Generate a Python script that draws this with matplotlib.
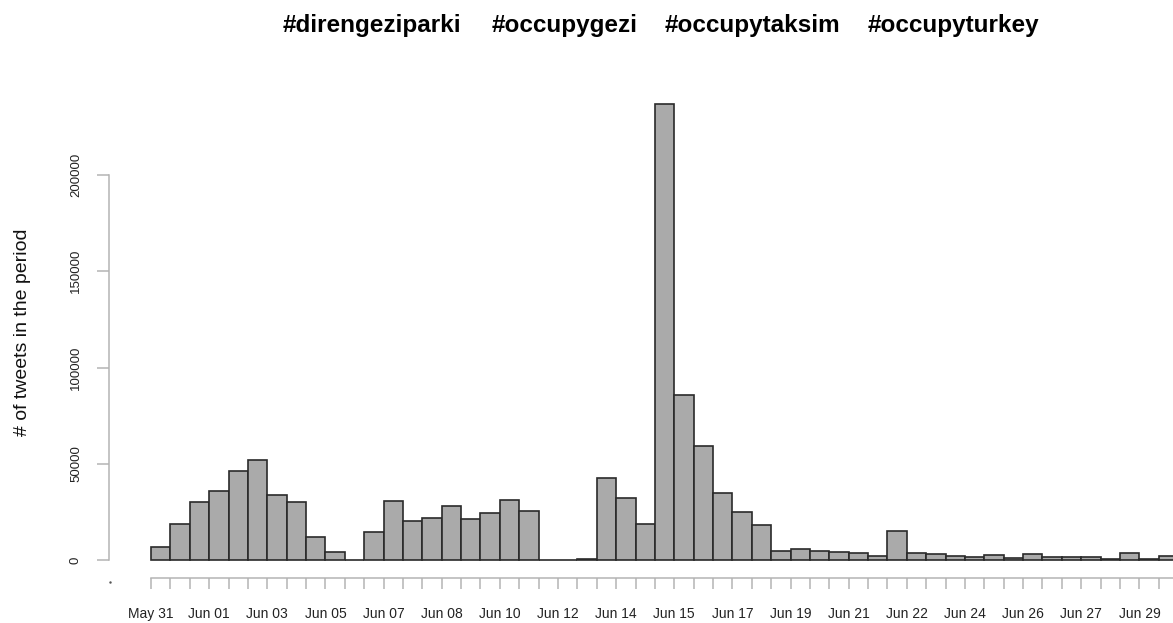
import matplotlib
matplotlib.use("Agg")
import matplotlib.pyplot as plt
import numpy as np

plt.rcParams['font.family'] = ['Liberation Sans', 'DejaVu Sans']

# tweet counts per period (53 bins)
counts = [6600, 18500, 30300, 36000, 46200, 51800, 33600, 30000, 12100, 4300,
          0, 14700, 30800, 20100, 21800, 28100, 21500, 24600, 31000, 25300,
          0, 0, 600, 42600, 32400, 18900, 236900, 85900, 59400, 34600,
          25100, 18400, 4850, 5500, 4500, 4000, 3500, 2250, 14900, 3500,
          3100, 2250, 1700, 2600, 1200, 2900, 1400, 1400, 1500, 700,
          3500, 700, 2100]
date_labels = ["May 31", "Jun 01", "Jun 03", "Jun 05", "Jun 07", "Jun 08",
               "Jun 10", "Jun 12", "Jun 14", "Jun 15", "Jun 17", "Jun 19",
               "Jun 21", "Jun 22", "Jun 24", "Jun 26", "Jun 27", "Jun 29"]
yticks = [0, 50000, 100000, 150000, 200000]
hashtags = ["#direngeziparki", "#occupygezi", "#occupytaksim", "#occupyturkey"]

W, H = 1173, 623
fig = plt.figure(figsize=(W / 100, H / 100), dpi=100)

# pixel geometry
px_x0, px_bw = 151.0, 19.38          # first bar left edge, bar width
px_y0, px_per = 560.0, 1.925 / 1000   # baseline, pixels per tweet
ax_left, ax_right = 109.0, 1173.0
ax_bottom, ax_top = 578.0, 90.0

ax = fig.add_axes([ax_left / W, 1 - ax_bottom / H,
                   (ax_right - ax_left) / W, (ax_bottom - ax_top) / H])

n = len(counts)
edges = np.arange(n + 1)
ax.bar(edges[:-1], counts, width=1.0, align='edge', color='#aaaaaa',
       edgecolor='#2a2a2a', linewidth=1.2, zorder=3)

for s in ['top', 'right']:
    ax.spines[s].set_visible(False)
gray = '#b4b4b4'
ax.spines['left'].set_bounds(0, 200000)
ax.spines['bottom'].set_bounds(0, n + 1)
ax.spines['left'].set_color(gray)
ax.spines['bottom'].set_color(gray)
ax.spines['left'].set_linewidth(1.1)
ax.spines['bottom'].set_linewidth(1.1)

ax.set_yticks(yticks)
ax.set_yticklabels([str(v) for v in yticks], rotation=90, va='center',
                   fontsize=9.5, color='#222222')
ax.tick_params(axis='y', length=8.5, width=1.1, color=gray, pad=11)

ax.set_xticks(np.arange(n + 2), minor=True)
ax.set_xticks(np.arange(len(date_labels)) * 3)
ax.set_xticklabels(date_labels, fontsize=10, color='#222222')
ax.tick_params(axis='x', which='both', length=8, width=1.1, color=gray, pad=13)

# set limits after ticks so they are not expanded
ax.set_xlim((ax_left - px_x0) / px_bw, (ax_right - px_x0) / px_bw)
ax.set_ylim(-(ax_bottom - px_y0) / px_per, (px_y0 - ax_top) / px_per)

ax.plot([0.001], [-0.008], marker='.', markersize=1.5, color='#555555',
        transform=ax.transAxes, clip_on=False)

fig.text(23 / W, 1 - 332 / H, "# of tweets in the period", rotation=90,
         ha='center', va='center', fontsize=14, color='#111111')

starts = [283, 492, 665, 868]
for h, x in zip(hashtags, starts):
    fig.text(x / W, 1 - 32 / H, h, ha='left', va='baseline', fontsize=17.5,
             fontweight='bold', color='black')

fig.savefig("out.png", dpi=100)
